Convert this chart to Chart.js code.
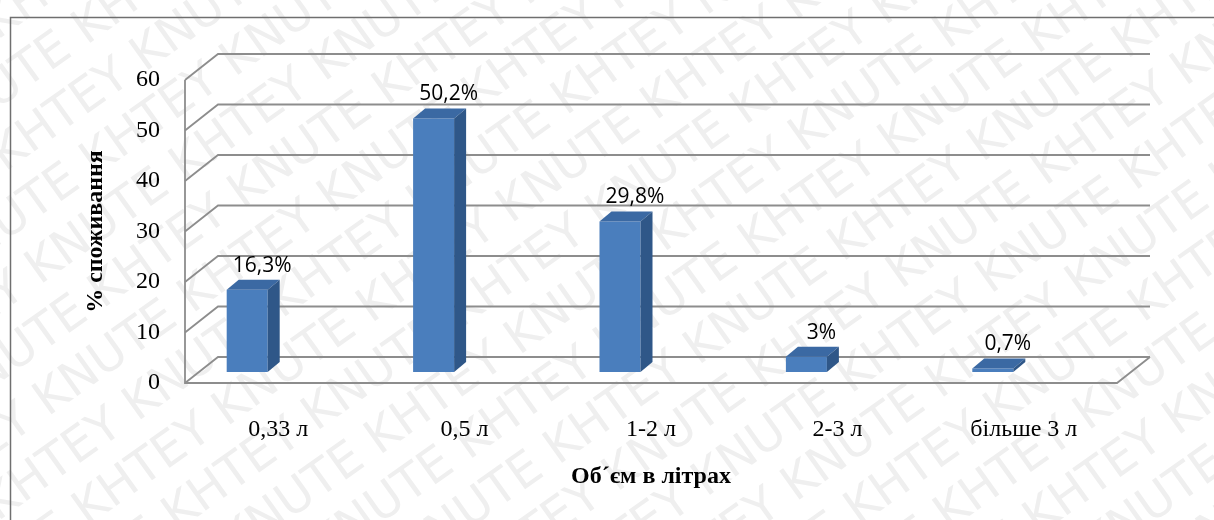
<!DOCTYPE html>
<html>
<head>
<meta charset="utf-8">
<script src="https://cdn.jsdelivr.net/npm/chart.js@4.4.1/dist/chart.umd.min.js"></script>
<style>
  html, body { margin: 0; padding: 0; background: #fff; }
  #grafico { display: block; }
</style>
</head>
<body>
<canvas id="grafico" width="1214" height="520"></canvas>
<script>
const categorias = ['0,33 л', '0,5 л', '1-2 л', '2-3 л', 'більше 3 л'];
const valores = [16.3, 50.2, 29.8, 3, 0.7];
const etiquetas = ['16,3%', '50,2%', '29,8%', '3%', '0,7%'];
const ticksY = [0, 10, 20, 30, 40, 50, 60];
const tituloY = '% споживання';
const tituloX = 'Об´єм в літрах';
const marcaAgua = 'KHTEY KNUTE';

// profundidad de las paredes 3D y desplazamiento de las barras
const fondo = { x: 33, y: 26 };
const desplBarra = { x: -31, y: -11 };
const caraBarra = { x: 12, y: 10 };

const serif = '"Liberation Serif", "Times New Roman", serif';

const plugin3d = {
  id: 'efecto3d',
  beforeDraw(chart) {
    const ctx = chart.ctx;
    ctx.save();
    ctx.fillStyle = '#fff';
    ctx.fillRect(0, 0, chart.width, chart.height);
    // marca de agua
    ctx.fillStyle = '#efefef';
    ctx.font = '48px "DejaVu Sans", sans-serif';
    ctx.translate(0, chart.height);
    ctx.rotate(-0.62);
    const linea = (marcaAgua + ' ').repeat(12);
    for (let j = -30; j < 30; j++) {
      ctx.fillText(linea, -1400 + (j % 3) * 70, j * 56);
    }
    ctx.restore();
    // marco exterior
    ctx.save();
    ctx.strokeStyle = '#6f6f6f';
    ctx.lineWidth = 1.5;
    ctx.beginPath();
    ctx.moveTo(10.5, chart.height);
    ctx.lineTo(10.5, 17.5);
    ctx.lineTo(chart.width, 17.5);
    ctx.stroke();
    ctx.restore();
  },
  beforeDatasetsDraw(chart) {
    const ctx = chart.ctx;
    const { left, right } = chart.chartArea;
    const y = chart.scales.y;
    ctx.save();
    ctx.strokeStyle = '#8d8d8d';
    ctx.lineWidth = 1.8;
    ticksY.forEach(v => {
      const py = y.getPixelForValue(v);
      ctx.beginPath();
      ctx.moveTo(left, py);
      ctx.lineTo(left + fondo.x, py - fondo.y);
      ctx.lineTo(right + fondo.x, py - fondo.y);
      ctx.stroke();
    });
    const p0 = y.getPixelForValue(0);
    const pMax = y.getPixelForValue(ticksY[ticksY.length - 1]);
    ctx.beginPath();
    ctx.moveTo(left, pMax);
    ctx.lineTo(left, p0);
    ctx.lineTo(right, p0);
    ctx.lineTo(right + fondo.x, p0 - fondo.y);
    ctx.stroke();
    ctx.restore();

    ctx.save();
    ctx.translate(desplBarra.x, desplBarra.y);
  },
  afterDatasetsDraw(chart) {
    const ctx = chart.ctx;
    const meta = chart.getDatasetMeta(0);
    meta.data.forEach((bar, i) => {
      const { x, y, base, width } = bar.getProps(['x', 'y', 'base', 'width'], true);
      const l = x - width / 2, r = x + width / 2;
      // cara superior
      ctx.fillStyle = '#3b69a3';
      ctx.beginPath();
      ctx.moveTo(l, y);
      ctx.lineTo(r, y);
      ctx.lineTo(r + caraBarra.x, y - caraBarra.y);
      ctx.lineTo(l + caraBarra.x, y - caraBarra.y);
      ctx.closePath();
      ctx.fill();
      // cara lateral
      ctx.fillStyle = '#2f5788';
      ctx.beginPath();
      ctx.moveTo(r, y);
      ctx.lineTo(r + caraBarra.x, y - caraBarra.y);
      ctx.lineTo(r + caraBarra.x, base - caraBarra.y);
      ctx.lineTo(r, base);
      ctx.closePath();
      ctx.fill();
      // etiqueta
      ctx.fillStyle = '#000';
      ctx.font = '21px "Open Sans", sans-serif';
      ctx.textAlign = 'center';
      ctx.textBaseline = 'middle';
      ctx.fillText(etiquetas[i], x + 15, y - 24);
    });
    ctx.restore();
  }
};

const ctx = document.getElementById('grafico').getContext('2d');
window.miGrafico = new Chart(ctx, {
  type: 'bar',
  data: {
    labels: categorias,
    datasets: [{
      label: tituloY,
      data: valores,
      backgroundColor: '#4a7ebd',
      borderWidth: 0,
      barPercentage: 0.22,
      categoryPercentage: 1
    }]
  },
  options: {
    responsive: false,
    devicePixelRatio: 1,
    animation: false,
    layout: { padding: { top: 80, right: 97, left: 0, bottom: 0 } },
    plugins: {
      legend: { display: false },
      tooltip: { enabled: false }
    },
    scales: {
      x: {
        grid: { display: false, drawTicks: false },
        border: { display: false },
        ticks: { color: '#000', font: { family: serif, size: 24 }, padding: 32 },
        title: { display: true, text: tituloX, color: '#000', font: { family: serif, size: 24, weight: 'bold' }, padding: { top: 0, bottom: 29 } },
        afterFit(scale) { scale.height = 137; }
      },
      y: {
        min: 0,
        max: 60,
        grid: { display: false, drawTicks: false },
        border: { display: false },
        ticks: { stepSize: 10, color: '#000', font: { family: serif, size: 24 }, padding: 25 },
        title: { display: true, text: tituloY, color: '#000', font: { family: serif, size: 24, weight: 'bold' }, padding: { top: 81, bottom: 0 } },
        afterFit(scale) { scale.width = 185; }
      }
    }
  },
  plugins: [plugin3d]
});
</script>
</body>
</html>
